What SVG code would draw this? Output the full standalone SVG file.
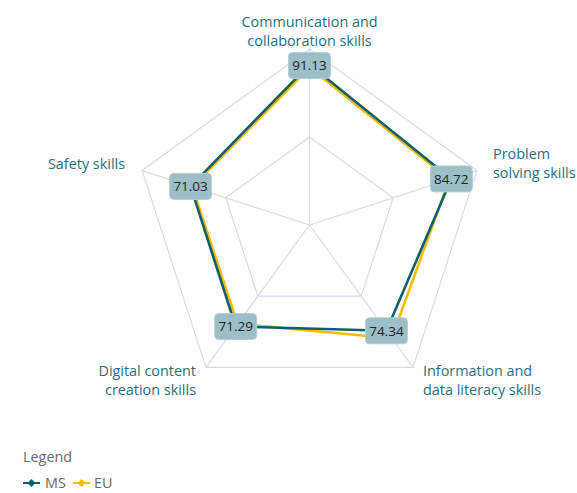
<svg xmlns="http://www.w3.org/2000/svg" width="577" height="493" viewBox="0 0 577 493">
<style>
.grid{fill:none;stroke:#d6dcec;stroke-width:1.2}
.ms{fill:none;stroke:#0e5f6d;stroke-width:2.6;stroke-linejoin:round}
.eu{fill:none;stroke:#f5bd00;stroke-width:2.6;stroke-linejoin:round}
.axis{font-family:"Segoe UI","Open Sans","Noto Sans",sans-serif;font-size:14.4px;fill:#26707f}
.box{fill:#9bbec7;stroke:#b3cfd6;stroke-width:1}
.val{font-family:"Segoe UI","Open Sans","Noto Sans",sans-serif;font-size:13.5px;fill:#252525;text-anchor:middle}
.leg{font-family:"Segoe UI","Open Sans","Noto Sans",sans-serif;font-size:14.4px;fill:#6a6a6a}
</style>
<rect width="577" height="493" fill="#ffffff"/>
<g id="grid">
<polygon class="grid" points="309.5,49 476.9,170.6 413,367.4 206,367.4 142.1,170.6"/>
<polygon class="grid" points="309.5,137 393.2,197.8 361.2,296.2 257.8,296.2 225.8,197.8"/>
<path class="grid" d="M309.5,225L309.5,49M309.5,225L476.9,170.6M309.5,225L413,367.4M309.5,225L206,367.4M309.5,225L142.1,170.6"/>
</g>
<g id="connectors">
<polygon id="eu-series" class="eu" points="309.5,67.5 449.3,179.6 391.7,338.2 237.6,323.9 192.3,186.9"/>
<polygon id="ms-series" class="ms" points="309.5,64.6 451.3,178.9 386.4,330.8 235.7,326.5 190.6,186.4"/>
</g>
<g id="axis-labels">
<text class="axis" x="309.5" y="27" text-anchor="middle">Communication and</text>
<text class="axis" x="309.5" y="46" text-anchor="middle">collaboration skills</text>
<text class="axis" x="493" y="159">Problem</text>
<text class="axis" x="493" y="178">solving skills</text>
<text class="axis" x="423" y="376">Information and</text>
<text class="axis" x="423" y="395">data literacy skills</text>
<text class="axis" x="196" y="376" text-anchor="end">Digital content</text>
<text class="axis" x="196" y="395" text-anchor="end">creation skills</text>
<text class="axis" x="125" y="169" text-anchor="end">Safety skills</text>
</g>
<g id="node-comm"><rect class="box" x="288.5" y="52.6" width="42" height="26" rx="4"/><text class="val" x="309.5" y="70.4">91.13</text></g>
<g id="node-problem"><rect class="box" x="430.3" y="165.9" width="42" height="26" rx="4"/><text class="val" x="451.3" y="183.7">84.72</text></g>
<g id="node-info"><rect class="box" x="365.4" y="317.8" width="42" height="26" rx="4"/><text class="val" x="386.4" y="335.6">74.34</text></g>
<g id="node-digital"><rect class="box" x="214.7" y="313.5" width="42" height="26" rx="4"/><text class="val" x="235.7" y="331.3">71.29</text></g>
<g id="node-safety"><rect class="box" x="169.6" y="173.4" width="42" height="26" rx="4"/><text class="val" x="190.6" y="191.2">71.03</text></g>
<g id="legend">
<text class="leg" x="23" y="462">Legend</text>
<line x1="23" y1="483" x2="40" y2="483" stroke="#0e5f6d" stroke-width="2"/>
<polygon points="31.5,479 35.5,483 31.5,487 27.5,483" fill="#0e5f6d"/>
<text class="leg" x="45" y="488" fill="#444">MS</text>
<line x1="73" y1="483" x2="90" y2="483" stroke="#f5bd00" stroke-width="2"/>
<polygon points="81.5,479 85.5,483 81.5,487 77.5,483" fill="#f5bd00"/>
<text class="leg" x="94" y="488">EU</text>
</g>
</svg>
